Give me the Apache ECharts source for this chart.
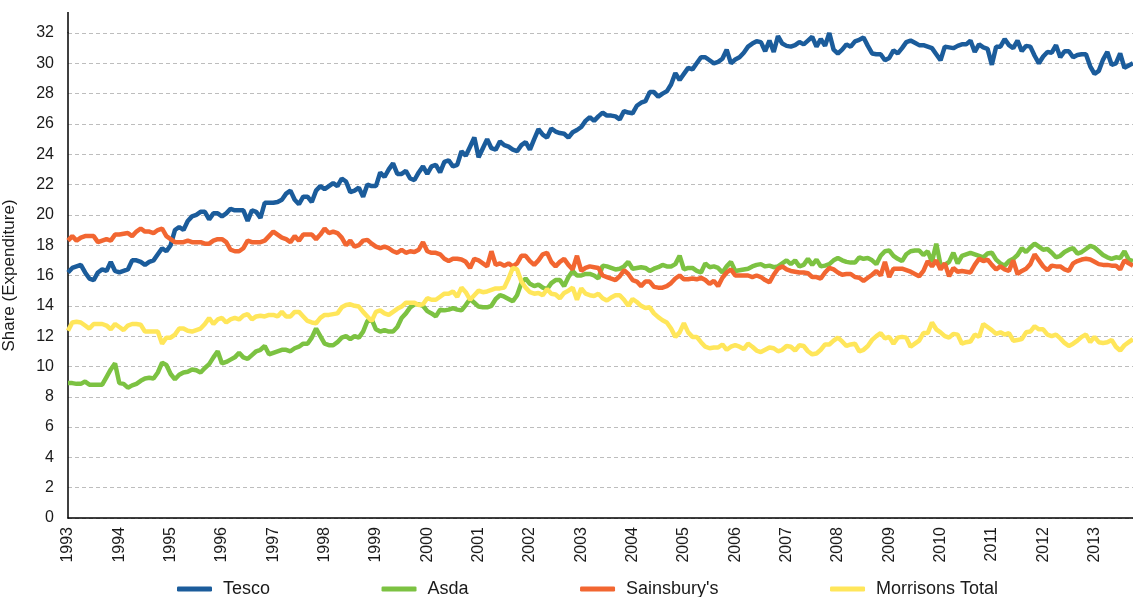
<!DOCTYPE html>
<html>
<head>
<meta charset="utf-8">
<title>Share (Expenditure)</title>
<script src="https://cdn.jsdelivr.net/npm/echarts@6/dist/echarts.min.js"></script>
<style>
  html, body { margin: 0; padding: 0; background: #fff; }
  #chart { width: 1133px; height: 597px; }
</style>
</head>
<body>
<div id="chart"></div>
<script>
// monthly points, Jan 1993 .. Oct 2013
const firstYear = 1993
const monthCount = 250
const months = []
for (let i = 0; i < monthCount; i++) {
  months.push(`${firstYear + Math.floor(i / 12)}-${String(i % 12 + 1).padStart(2, '0')}`)
}

const seriesNames = ['Tesco', 'Asda', "Sainsbury's", 'Morrisons Total']
const seriesColors = ['#1b5c9b', '#7cc242', '#f26631', '#ffe65a']

const tesco = [
  16.2, 16.5, 16.6, 16.7, 16.2, 15.8, 15.7, 16.2, 16.4, 16.3, 16.9, 16.3, 16.2, 16.3, 16.4, 17.0, 17.0, 16.9, 16.7, 16.9,
  17.0, 17.4, 17.8, 17.6, 18.0, 19.0, 19.2, 19.0, 19.6, 19.9, 20.0, 20.2, 20.2, 19.7, 20.1, 20.1, 19.9, 20.1, 20.4, 20.3,
  20.3, 20.3, 19.6, 20.3, 20.2, 19.8, 20.8, 20.8, 20.8, 20.85, 21.0, 21.4, 21.6, 21.0, 20.7, 21.2, 21.2, 20.85, 21.6, 21.9,
  21.7, 21.9, 22.1, 21.9, 22.4, 22.2, 21.5, 21.6, 21.8, 21.2, 22.0, 21.9, 21.9, 22.8, 22.5, 23.0, 23.4, 22.7, 22.7, 22.9,
  22.4, 22.3, 22.8, 23.2, 22.7, 23.2, 23.3, 22.8, 23.5, 23.6, 23.2, 23.3, 24.2, 23.9, 24.5, 25.1, 23.8, 24.4, 25.0, 24.4,
  24.3, 24.85, 24.6, 24.5, 24.3, 24.2, 24.6, 24.8, 24.3, 25.0, 25.65, 25.3, 25.1, 25.7, 25.5, 25.4, 25.35, 25.1, 25.45, 25.6,
  25.8, 26.2, 26.45, 26.2, 26.5, 26.75, 26.55, 26.55, 26.5, 26.3, 26.85, 26.75, 26.7, 27.2, 27.4, 27.5, 28.1, 28.1, 27.8, 28.0,
  28.15, 28.6, 29.35, 28.9, 29.3, 29.7, 29.6, 30.0, 30.4, 30.4, 30.2, 30.0, 30.1, 30.3, 30.9, 30.0, 30.25, 30.4, 30.7, 31.1,
  31.3, 31.45, 31.4, 30.8, 31.5, 30.75, 31.8, 31.3, 31.15, 31.1, 31.2, 31.4, 31.25, 31.5, 31.75, 31.1, 31.6, 31.15, 32.0, 30.9,
  30.65, 30.9, 31.25, 31.1, 31.45, 31.55, 31.7, 31.15, 30.65, 30.6, 30.6, 30.2, 30.35, 30.85, 30.65, 31.0, 31.4, 31.5, 31.35, 31.2,
  31.2, 31.1, 31.0, 30.6,
  30.2, 31.1, 31.05, 31.0, 31.15, 31.25, 31.25, 31.5, 30.75, 31.25, 31.05, 30.95, 29.9, 31.1, 31.1, 31.6, 31.2, 31.0, 31.5, 30.8,
  31.15, 31.1, 30.5, 30.0, 30.45, 30.75, 30.7, 31.2, 30.4, 30.8, 30.8, 30.4, 30.55, 30.6, 30.6, 29.8, 29.3, 29.5, 30.25, 30.75,
  29.9, 30.0, 30.65, 29.7, 29.85, 30.0
]

const asda = [
  8.9, 8.9, 8.85, 8.85, 9.0, 8.8, 8.8, 8.8, 8.8, 9.3, 9.8, 10.2, 8.9, 8.85, 8.6, 8.75, 8.85, 9.05, 9.2, 9.25,
  9.2, 9.6, 10.25, 10.1, 9.5, 9.15, 9.45, 9.6, 9.65, 9.8, 9.75, 9.6, 9.9, 10.15, 10.6, 11.0, 10.2, 10.3, 10.45, 10.6,
  10.9, 10.6, 10.5, 10.75, 11.0, 11.1, 11.35, 10.8, 10.9, 11.0, 11.1, 11.1, 11.0, 11.2, 11.3, 11.5, 11.5, 11.9, 12.5, 12.0,
  11.5, 11.4, 11.4, 11.6, 11.9, 12.0, 11.8, 12.0, 11.9, 12.3, 13.0, 13.1, 12.45, 12.3, 12.4, 12.3, 12.3, 12.6, 13.2, 13.5,
  13.9, 14.1, 14.1, 14.0, 13.65, 13.5, 13.3, 13.75, 13.7, 13.75, 13.85, 13.75, 13.7, 14.05, 14.45, 14.2, 13.95, 13.9, 13.9, 14.0,
  14.45, 14.7, 14.6, 14.45, 14.3, 14.7, 15.5, 15.8, 15.45, 15.3, 15.4, 15.2, 15.1, 15.5, 15.7, 15.7, 15.3, 15.9, 16.3, 16.0,
  16.0, 16.1, 16.1, 16.0, 15.8, 16.65, 16.6, 16.5, 16.4, 16.45, 16.6, 16.9, 16.45, 16.5, 16.55, 16.5, 16.3, 16.45, 16.55, 16.7,
  16.6, 16.6, 16.75, 17.3, 16.4, 16.5, 16.5, 16.3, 16.2, 16.8, 16.55, 16.6, 16.5, 16.2, 16.6, 16.9, 16.3, 16.35, 16.4, 16.45,
  16.6, 16.7, 16.75, 16.6, 16.65, 16.55, 16.6, 16.8, 17.0, 16.75, 17.0, 16.6, 16.7, 17.1, 16.7, 17.05, 16.6, 16.65, 16.75, 17.0,
  17.15, 17.0, 16.9, 16.85, 16.85, 17.2, 17.1, 17.15, 17.0, 16.75, 17.3, 17.6, 17.65, 17.3, 17.1, 16.95, 17.4, 17.6, 17.65, 17.65,
  17.35, 17.6, 16.9, 18.1,
  16.7, 16.7, 16.9, 17.5, 16.8, 17.3, 17.4, 17.5, 17.4, 17.3, 17.2, 17.45, 17.5, 17.05, 16.8, 16.65, 16.95, 17.1, 17.35, 17.8,
  17.55, 17.85, 18.1, 17.9, 17.7, 17.75, 17.5, 17.2, 17.3, 17.55, 17.7, 17.8, 17.45, 17.55, 17.75, 17.95, 17.85, 17.6, 17.35, 17.2,
  17.1, 17.2, 17.15, 17.6, 17.05, 16.95
]

const sainsburys = [
  18.3, 18.6, 18.3, 18.5, 18.6, 18.6, 18.6, 18.2, 18.3, 18.4, 18.3, 18.7, 18.7, 18.75, 18.8, 18.6, 18.9, 19.1, 18.9, 18.9,
  18.8, 19.0, 19.1, 18.6, 18.4, 18.2, 18.2, 18.2, 18.3, 18.2, 18.2, 18.2, 18.1, 18.1, 18.3, 18.4, 18.4, 18.2, 17.7, 17.6,
  17.6, 17.8, 18.3, 18.2, 18.2, 18.2, 18.3, 18.6, 18.9, 18.7, 18.5, 18.4, 18.2, 18.6, 18.3, 18.7, 18.7, 18.7, 18.4, 18.7,
  19.1, 18.8, 18.9, 18.8, 18.5, 18.0, 18.3, 17.9, 18.0, 18.3, 18.35, 18.1, 17.9, 17.8, 17.9, 17.8, 17.6, 17.5, 17.7, 17.5,
  17.6, 17.55, 17.7, 18.2, 17.6, 17.5, 17.5, 17.4, 17.1, 16.95, 17.1, 17.1, 17.05, 16.9, 16.5, 17.1, 17.0, 16.8, 16.6, 17.6,
  16.7, 16.8, 16.65, 16.8, 16.6, 16.8, 17.3, 17.3, 16.95, 16.7, 17.0, 17.4, 17.5, 16.9, 16.6, 16.9, 17.1, 16.7, 16.4, 17.3,
  16.3, 16.5, 16.6, 16.55, 16.5, 16.0, 15.9, 15.8, 15.7, 15.95, 16.35, 16.1, 15.7, 15.6, 15.3, 15.6, 15.6, 15.25, 15.2, 15.2,
  15.3, 15.5, 15.8, 16.0, 15.75, 15.75, 15.8, 15.75, 15.85, 15.7, 15.45, 15.65, 15.3, 15.85, 16.2, 16.4, 16.0, 16.0, 16.0, 16.0,
  15.9, 16.0, 15.9, 15.7, 15.55, 16.05, 16.45, 16.6, 16.4, 16.3, 16.25, 16.2, 16.2, 16.15, 15.9, 15.9, 15.8, 16.2, 16.5, 16.4,
  16.2, 16.05, 16.1, 16.1, 15.9, 15.85, 15.65, 15.85, 16.05, 16.3, 16.0, 16.9, 15.9, 16.45, 16.45, 16.45, 16.35, 16.25, 16.1, 15.95,
  16.3, 16.95, 16.6, 17.0,
  16.4, 16.8, 15.95, 16.5, 16.25, 16.3, 16.25, 16.2, 16.7, 17.1, 16.95, 17.05, 16.7, 16.4, 16.6, 16.4, 16.3, 17.0, 16.1, 16.3,
  16.45, 16.75, 17.4, 17.0, 16.6, 16.35, 16.65, 16.6, 16.6, 16.4, 16.3, 16.8, 16.95, 17.05, 17.1, 17.05, 16.9, 16.75, 16.7, 16.7,
  16.65, 16.65, 16.4, 17.0, 16.8, 16.65
]

const morrisons = [
  12.35, 12.9, 12.95, 12.9, 12.7, 12.5, 12.8, 12.8, 12.8, 12.7, 12.45, 12.8, 12.6, 12.4, 12.7, 12.8, 12.8, 12.75, 12.3, 12.3,
  12.3, 12.3, 11.5, 11.9, 11.9, 12.1, 12.5, 12.5, 12.35, 12.3, 12.4, 12.5, 12.8, 13.2, 12.8, 13.1, 13.2, 12.9, 13.1, 13.2,
  13.1, 13.35, 13.45, 13.1, 13.3, 13.35, 13.3, 13.4, 13.4, 13.3, 13.6, 13.3, 13.3, 13.6, 13.6, 13.3, 13.0, 12.9, 12.85, 13.2,
  13.4, 13.4, 13.45, 13.5, 13.9, 14.05, 14.1, 14.0, 13.95, 13.6, 13.3, 13.0, 13.6, 13.7, 13.5, 13.4, 13.6, 13.8, 13.95, 14.2,
  14.2, 14.2, 14.05, 14.1, 14.5, 14.4, 14.4, 14.6, 14.8, 14.8, 14.95, 14.6, 15.2, 14.9, 14.4, 14.7, 15.0, 14.9, 14.95, 15.05,
  15.15, 15.15, 15.2, 15.8, 16.5, 16.4, 15.6, 15.2, 14.9, 14.8, 14.85, 14.7, 15.1, 14.8, 14.75, 14.5, 14.85, 15.0, 15.2, 14.4,
  15.15, 14.8, 14.7, 14.65, 14.8, 14.5, 14.35, 14.55, 14.7, 14.7, 14.4, 14.0, 14.45, 14.25, 14.0, 13.85, 13.9, 13.5, 13.25, 13.05,
  12.9, 12.5, 11.95, 12.25, 12.85, 12.25, 11.95, 11.95, 11.6, 11.3, 11.2, 11.25, 11.25, 11.45, 11.1, 11.3, 11.4, 11.3, 11.15, 11.5,
  11.3, 11.05, 10.95, 11.1, 11.25, 11.2, 11.0, 11.1, 11.35, 11.3, 11.05, 11.4, 11.35, 11.0, 10.8, 10.85, 11.1, 11.45, 11.45, 11.7,
  11.9, 11.65, 11.35, 11.45, 11.5, 11.0, 11.1, 11.35, 11.75, 12.0, 12.2, 11.85, 11.95, 11.5, 11.9, 11.95, 11.9, 11.3, 11.5, 11.7,
  12.2, 12.2, 12.9, 12.45,
  12.25, 12.0, 11.9, 12.15, 12.1, 11.5, 11.6, 11.65, 12.1, 11.95, 12.8, 12.6, 12.4, 12.15, 12.25, 12.1, 12.2, 11.7, 11.75, 11.8,
  12.25, 12.3, 12.65, 12.45, 12.45, 12.1, 12.0, 12.1, 11.85, 11.55, 11.35, 11.5, 11.7, 11.95, 12.1, 11.6, 11.95, 11.6, 11.55, 11.6,
  11.75, 11.3, 11.05, 11.4, 11.6, 11.8
]

const yTicks = { min: 0, max: 32, interval: 2 }

const chart = echarts.init(document.getElementById('chart'))

const option = {
  animation: false,
  textStyle: { fontFamily: 'Liberation Sans, Arial, sans-serif' },
  color: seriesColors,
  grid: { left: 68, right: 0, top: 33, bottom: 79, outerBoundsMode: 'none', containLabel: false },
  legend: {
    left: 177,
    top: 579,
    padding: 0,
    icon: 'roundRect',
    itemWidth: 35,
    itemHeight: 5,
    itemGap: 111.5,
    textStyle: { fontSize: 18, lineHeight: 20, color: '#1a1a1a', padding: [0, 0, 0, 6] },
    data: seriesNames
  },
  xAxis: {
    type: 'category',
    data: months,
    boundaryGap: false,
    axisLine: { lineStyle: { color: '#000', width: 1.5 } },
    axisTick: { show: false },
    splitLine: { show: false },
    axisLabel: {
      interval: 11,
      rotate: 90,
      fontSize: 16,
      color: '#1a1a1a',
      margin: 9,
      formatter: v => v.slice(0, 4)
    }
  },
  yAxis: {
    type: 'value',
    min: yTicks.min,
    max: yTicks.max,
    interval: yTicks.interval,
    name: 'Share (Expenditure)',
    nameLocation: 'middle',
    nameGap: 50,
    nameTextStyle: { fontSize: 17, color: '#1a1a1a' },
    axisLine: { show: true, lineStyle: { color: '#000', width: 1.5 } },
    axisTick: { show: false },
    axisLabel: { fontSize: 16, color: '#1a1a1a', margin: 14 },
    splitLine: { lineStyle: { color: '#bdbdbd', width: 1, type: [4, 3] } }
  },
  // axis line runs a little above the top gridline, like the original
  graphic: [{
    type: 'line',
    shape: { x1: 68, y1: 12, x2: 68, y2: 33 },
    style: { stroke: '#000', lineWidth: 1.5 }
  }],
  series: [tesco, asda, sainsburys, morrisons].map((values, i) => ({
    name: seriesNames[i],
    type: 'line',
    data: values,
    symbol: 'none',
    lineStyle: { width: 4.5, color: seriesColors[i] }
  }))
}

chart.setOption(option)
</script>
</body>
</html>
